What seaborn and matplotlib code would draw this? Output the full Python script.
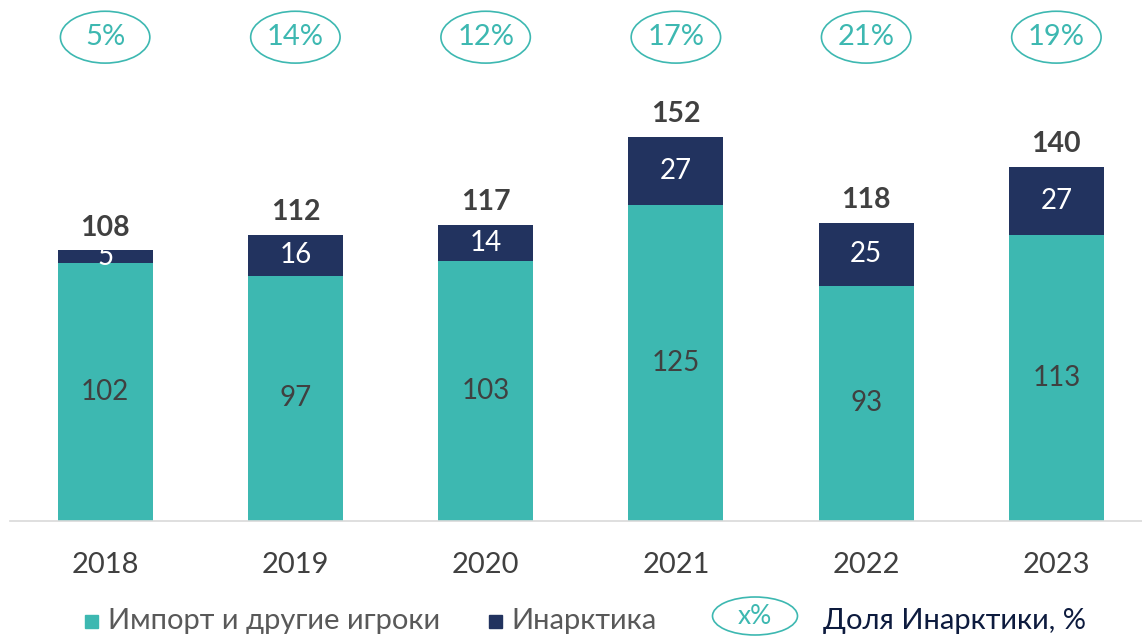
import matplotlib
matplotlib.use("Agg")
import matplotlib.pyplot as plt
from matplotlib.patches import Ellipse, Rectangle
import pandas as pd
import seaborn as sns

years = ["2018", "2019", "2020", "2021", "2022", "2023"]
imports = [102, 97, 103, 125, 93, 113]
inarctica = [5, 16, 14, 27, 25, 27]
totals = [108, 112, 117, 152, 118, 140]
shares = ["5%", "14%", "12%", "17%", "21%", "19%"]

TEAL = "#3DB8B1"
NAVY = "#22335F"
GRAY = "#404040"


def main():
    sns.set_style("white")
    plt.rcParams["font.family"] = ["Lato", "DejaVu Sans"]

    df = pd.DataFrame({"year": years, "imports": imports, "inarctica": inarctica})
    df["stack"] = df["imports"] + df["inarctica"]

    fig = plt.figure(figsize=(11.42, 6.36), dpi=100)
    ax = fig.add_axes([10 / 1142, 115 / 636, 1132 / 1142, 521 / 636])

    sns.barplot(data=df, x="year", y="stack", color=NAVY, width=0.5,
                saturation=1, linewidth=0, ax=ax)
    sns.barplot(data=df, x="year", y="imports", color=TEAL, width=0.5,
                saturation=1, linewidth=0, ax=ax)

    ax.set_xlim(-0.5, 5.45)
    ax.set_ylim(0, 206)
    sns.despine(ax=ax, left=True)
    ax.spines["bottom"].set_color("#D9D9D9")
    ax.spines["bottom"].set_linewidth(1.2)
    ax.set_yticks([])
    ax.set_xlabel("")
    ax.set_ylabel("")
    ax.tick_params(axis="x", length=0, pad=22, labelsize=21, labelcolor=GRAY)

    for i in range(len(years)):
        ax.text(i, imports[i] / 2, str(imports[i]), ha="center", va="center",
                fontsize=20, color=GRAY)
        ax.text(i, imports[i] + inarctica[i] / 2, str(inarctica[i]),
                ha="center", va="center", fontsize=20, color="white")
        ax.annotate(str(totals[i]), (i, imports[i] + inarctica[i]),
                    xytext=(0, 7), textcoords="offset points",
                    ha="center", va="bottom", fontsize=20.5,
                    fontweight="bold", color=GRAY)
        ax.add_patch(Ellipse((i, 191.3), 0.47, 20.5, facecolor="white",
                             edgecolor=TEAL, lw=1.2, clip_on=False))
        ax.text(i, 191.3, shares[i], ha="center", va="center",
                fontsize=21, color=TEAL)

    # legend
    ly = 1 - 621 / 636
    fig.add_artist(Rectangle((85 / 1142, 1 - 628 / 636), 13 / 1142, 13 / 636,
                             transform=fig.transFigure, color=TEAL))
    fig.text(108 / 1142, ly, "Импорт и другие игроки", ha="left", va="center",
             fontsize=21, color="#595959")
    fig.add_artist(Rectangle((489 / 1142, 1 - 628 / 636), 13 / 1142, 13 / 636,
                             transform=fig.transFigure, color=NAVY))
    fig.text(511 / 1142, ly, "Инарктика", ha="left", va="center",
             fontsize=21, color="#595959")
    fig.add_artist(Ellipse((755 / 1142, 1 - 616 / 636), 85 / 1142, 38 / 636,
                           transform=fig.transFigure, facecolor="white",
                           edgecolor=TEAL, lw=1.2))
    fig.text(755 / 1142, 1 - 616 / 636, "x%", ha="center", va="center",
             fontsize=19, color=TEAL)
    fig.text(823 / 1142, ly, "Доля Инарктики, %", ha="left", va="center",
             fontsize=21, color="#0D1B3E")

    fig.savefig("out.png", dpi=100)


if __name__ == "__main__":
    main()
